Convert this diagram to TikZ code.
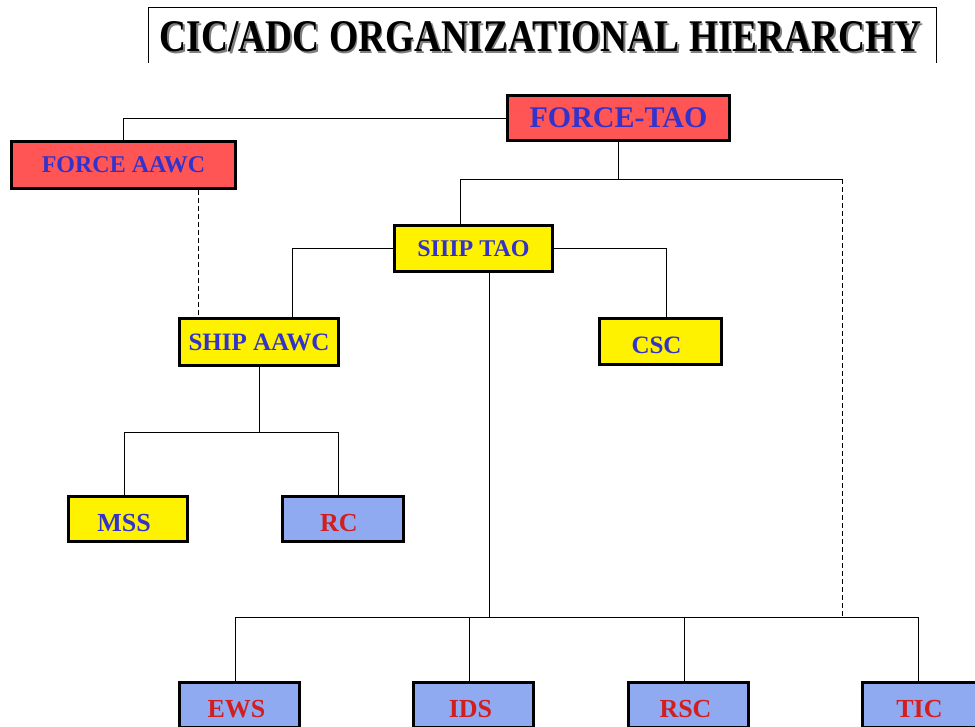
\documentclass[tikz,border=0pt]{standalone}
\usepackage{fontspec}
\setmainfont{Liberation Serif}
\usepackage{xcolor}
\usepackage{graphicx}
\usepackage{tikz}
\usetikzlibrary{calc}

\definecolor{forcered}{RGB}{255,85,85}
\definecolor{labelblue}{RGB}{51,51,204}
\definecolor{stationblue}{RGB}{143,170,240}
\definecolor{labelred}{RGB}{210,30,30}

\tikzset{
  box/.style={draw=black, line width=3pt, inner sep=0pt, font=\bfseries},
  redbox/.style={box, fill=forcered, text=labelblue},
  yellowbox/.style={box, fill=yellow, text=labelblue},
  bluebox/.style={box, fill=stationblue, text=labelred},
  lowtext/.style={text height=25pt, text depth=0pt},
  link/.style={draw=black, line width=0.8pt},
  dashlink/.style={link, dash pattern=on 5pt off 3pt},
}

\begin{document}
\begin{tikzpicture}[x=1pt, y=-1pt]
        \clip (0,0) rectangle (975,727);
        \fill[white] (0,0) rectangle (975,727);

        % title
        \draw[line width=0.9pt] (148,63) -- (148,7) -- (936,7) -- (936,63);
        \node[text=gray] at (542.5,38.5) {\resizebox{762pt}{30pt}{\bfseries CIC/ADC ORGANIZATIONAL HIERARCHY}};
        \node (title) at (541,37) {\resizebox{762pt}{30pt}{\bfseries CIC/ADC ORGANIZATIONAL HIERARCHY}};

        % force level
        \node[redbox, minimum width=222pt, minimum height=45pt, font=\bfseries\fontsize{30}{30}\selectfont] (forcetao) at (618.5,118) {FORCE-TAO};
        \node[redbox, minimum width=224pt, minimum height=47pt, font=\bfseries\fontsize{24}{24}\selectfont] (forceaawc) at (123.5,165) {FORCE AAWC};

        % ship level
        \node[yellowbox, minimum width=158pt, minimum height=46pt, font=\bfseries\fontsize{24}{24}\selectfont] (shiptao) at (473.5,248.5) {SIIIP TAO};
        \node[yellowbox, minimum width=159pt, minimum height=47pt, font=\bfseries\fontsize{25}{25}\selectfont] (shipaawc) at (259,342) {SHIP AAWC};
        \node[yellowbox, lowtext, minimum width=122pt, minimum height=46pt, font=\bfseries\fontsize{25}{25}\selectfont] (csc) at (660.5,341.5) {CSC\hspace*{8pt}};

        \node[yellowbox, lowtext, minimum width=119pt, minimum height=45pt, font=\bfseries\fontsize{26}{26}\selectfont] (mss) at (128,519) {MSS\hspace*{8pt}};
        \node[bluebox, lowtext, minimum width=121pt, minimum height=45pt, font=\bfseries\fontsize{26}{26}\selectfont] (rc) at (343,519) {RC\hspace*{8pt}};

        % watch stations
        \node[bluebox, lowtext, minimum width=120pt, minimum height=45pt, font=\bfseries\fontsize{26}{26}\selectfont] (ews) at (239.5,705) {EWS\hspace*{6pt}};
        \node[bluebox, lowtext, minimum width=120pt, minimum height=45pt, font=\bfseries\fontsize{26}{26}\selectfont] (ids) at (473.5,705) {IDS\hspace*{6pt}};
        \node[bluebox, lowtext, minimum width=120pt, minimum height=45pt, font=\bfseries\fontsize{26}{26}\selectfont] (rsc) at (688.5,705) {RSC\hspace*{6pt}};
        \node[bluebox, lowtext, minimum width=120pt, minimum height=45pt, font=\bfseries\fontsize{26}{26}\selectfont] (tic) at (922.5,705) {TIC\hspace*{6pt}};

        % connectors
        \coordinate (tacbar) at (842,179);
        \coordinate (lowbar) at (842,617);
        \draw[link] (forcetao.west) -| (forceaawc.north);
        \draw[link] (forcetao.south) -- (forcetao.south |- tacbar);
        \draw[link] ([xshift=-13pt]shiptao.north) |- (tacbar);
        \draw[dashlink] (tacbar) -- (lowbar);
        \draw[dashlink] ([xshift=74.5pt]forceaawc.south) -- ([xshift=74.5pt]forceaawc.south |- shipaawc.north);
        \draw[link] (shiptao.west) -| ([xshift=33pt]shipaawc.north);
        \draw[link] (shiptao.east) -| ([xshift=5.5pt]csc.north);
        \draw[link] ([xshift=15.5pt]shiptao.south) -- ([xshift=15.5pt]shiptao.south |- lowbar);
        \draw[link] (shipaawc.south) -- ++(0,65) coordinate (aawcbar);
        \draw[link] ([xshift=-4pt]mss.north) |- (aawcbar);
        \draw[link] ([xshift=-5pt]rc.north) |- (aawcbar);
        \draw[link] ([xshift=-4pt]ews.north) |- (lowbar);
        \draw[link] ([xshift=-4pt]tic.north) |- (lowbar);
        \draw[link] ([xshift=-4pt]ids.north) -- ([xshift=-4pt]ids.north |- lowbar);
        \draw[link] ([xshift=-4pt]rsc.north) -- ([xshift=-4pt]rsc.north |- lowbar);
      \end{tikzpicture}
\end{document}
